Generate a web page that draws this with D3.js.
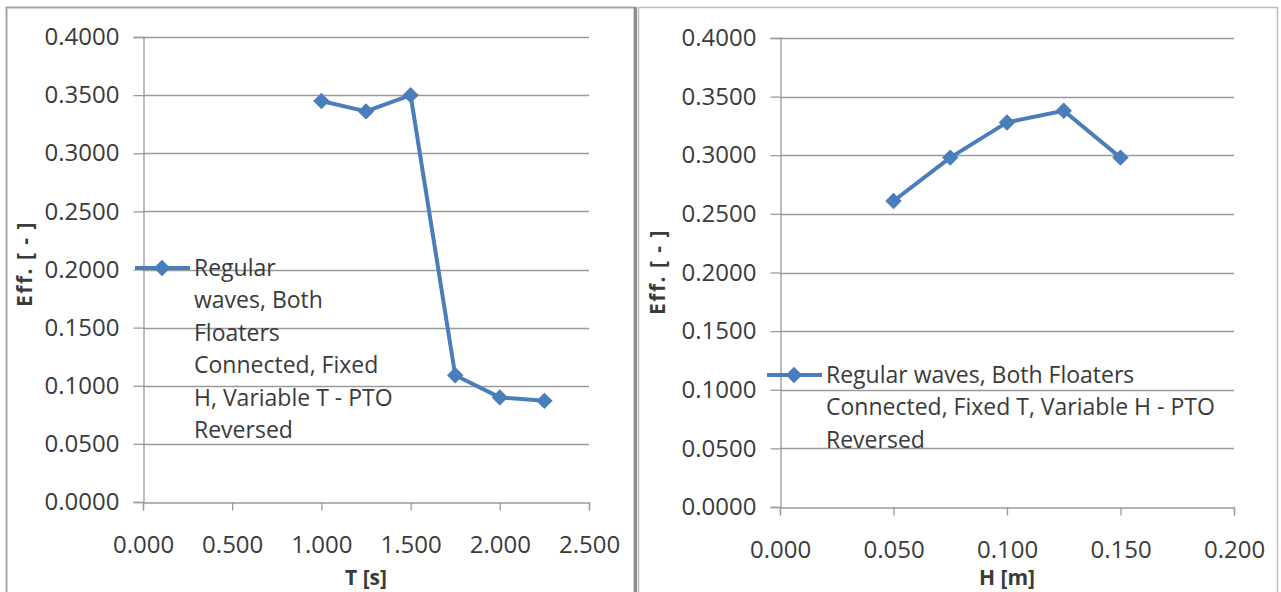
<!DOCTYPE html>
<html><head><meta charset="utf-8">
<script src="https://cdn.jsdelivr.net/npm/d3@7"></script>
<style>
body{margin:0;background:#fff;}
svg{display:block;font-family:"Open Sans",sans-serif;}
</style></head>
<body>
<svg id="c" width="1281" height="592"></svg>
<script>
// Left chart data
const periodT = [1.0, 1.25, 1.5, 1.75, 2.0, 2.25];
const effT = [0.345, 0.336, 0.350, 0.109, 0.090, 0.087];
const xTicksT = [0, 0.5, 1.0, 1.5, 2.0, 2.5];
// Right chart data
const heightH = [0.05, 0.075, 0.1, 0.125, 0.15];
const effH = [0.261, 0.298, 0.328, 0.338, 0.298];
const xTicksH = [0, 0.05, 0.1, 0.15, 0.2];
const yTicks = [0, 0.05, 0.1, 0.15, 0.2, 0.25, 0.3, 0.35, 0.4];
const legendT = ["Regular", "waves, Both", "Floaters", "Connected, Fixed", "H, Variable T - PTO", "Reversed"];
const legendH = ["Regular waves, Both Floaters", "Connected, Fixed T, Variable H - PTO", "Reversed"];

const svg = d3.select("#c");
const blue = "#4a7ebb", grid = "#9a9a9a", txt = "#3a3a3a";

// panel frames
svg.append("rect").attr("x",6.5).attr("y",7.5).attr("width",628).attr("height",600)
  .attr("fill","#fff").attr("stroke","#a6a6a6").attr("stroke-width",2);
svg.append("rect").attr("x",638.5).attr("y",7.5).attr("width",639).attr("height",600)
  .attr("fill","#fff").attr("stroke","#bdbdbd").attr("stroke-width",1.5);
svg.append("line").attr("x1",635.5).attr("x2",635.5).attr("y1",7).attr("y2",592)
  .attr("stroke","#8c8c8c").attr("stroke-width",3);

const sym = d3.symbol().type(d3.symbolSquare).size(135);

function panel(o){
  const x = d3.scaleLinear().domain([o.xTicks[0], o.xTicks[o.xTicks.length-1]]).range([o.x0,o.x1]);
  const y = d3.scaleLinear().domain([0,0.4]).range([o.y0,o.y1]);
  const g = svg.append("g");
  // gridlines
  g.selectAll(".gl").data(yTicks.filter(d=>d>0)).join("line")
    .attr("x1",o.x0).attr("x2",o.x1).attr("y1",d=>Math.round(y(d))+0.5).attr("y2",d=>Math.round(y(d))+0.5)
    .attr("stroke",grid).attr("stroke-width",1.3);
  // y axis
  const ya = g.append("g").attr("transform",`translate(${o.x0+0.5},0)`)
    .call(d3.axisLeft(y).tickValues(yTicks).tickFormat(d3.format(".4f")).tickSize(10).tickPadding(14));
  // x axis
  const xa = g.append("g").attr("transform",`translate(0,${o.y0+0.5})`)
    .call(d3.axisBottom(x).tickValues(o.xTicks).tickFormat(d3.format(".3f")).tickSize(8).tickPadding(25));
  [ya,xa].forEach(a=>{
    a.select(".domain").attr("stroke",grid).attr("stroke-width",1.3);
    a.selectAll(".tick line").attr("stroke",grid).attr("stroke-width",1.3);
    a.selectAll("text").attr("fill",txt).style("font-size","24px").style("font-family","'Open Sans',sans-serif");
  });
  // line
  const line = d3.line().x((d,i)=>x(o.xs[i])).y(d=>y(d));
  g.append("path").datum(o.ys).attr("d",line).attr("fill","none").attr("stroke",blue).attr("stroke-width",4).attr("stroke-linejoin","round");
  g.selectAll(".pt").data(o.ys).join("path").attr("d",sym)
    .attr("transform",(d,i)=>`translate(${x(o.xs[i])},${y(d)}) rotate(45)`).attr("fill",blue);
  // axis titles
  g.append("text").attr("x",(o.x0+o.x1)/2).attr("y",585).attr("text-anchor","middle")
    .attr("font-weight","bold").attr("fill",txt).style("font-size","21px").text(o.xTitle);
  g.append("text").attr("transform",`translate(${o.ytx},${o.yty}) rotate(-90)`).attr("text-anchor","middle")
    .attr("font-weight","bold").attr("fill",txt).style("font-size","21px").style("letter-spacing","1.5px").text("Eff. [ - ]");
  // legend
  g.append("line").attr("x1",o.lx).attr("x2",o.lx+55).attr("y1",o.ly).attr("y2",o.ly).attr("stroke",blue).attr("stroke-width",4);
  g.append("path").attr("d",sym).attr("transform",`translate(${o.lx+27},${o.ly}) rotate(45)`).attr("fill",blue);
  const t = g.append("text").attr("fill",txt).style("font-size","23px");
  o.legend.forEach((s,i)=>t.append("tspan").attr("x",o.lx+59).attr("y",o.ly+8+i*32.4).text(s));
}

panel({x0:143,x1:589,y0:502,y1:37,xTicks:xTicksT,xs:periodT,ys:effT,xTitle:"T [s]",ytx:32,yty:264,
  lx:135,ly:268,legend:legendT});
panel({x0:780,x1:1234,y0:507,y1:38,xTicks:xTicksH,xs:heightH,ys:effH,xTitle:"H [m]",ytx:665,yty:272,
  lx:767,ly:375,legend:legendH});
</script>
</body></html>
